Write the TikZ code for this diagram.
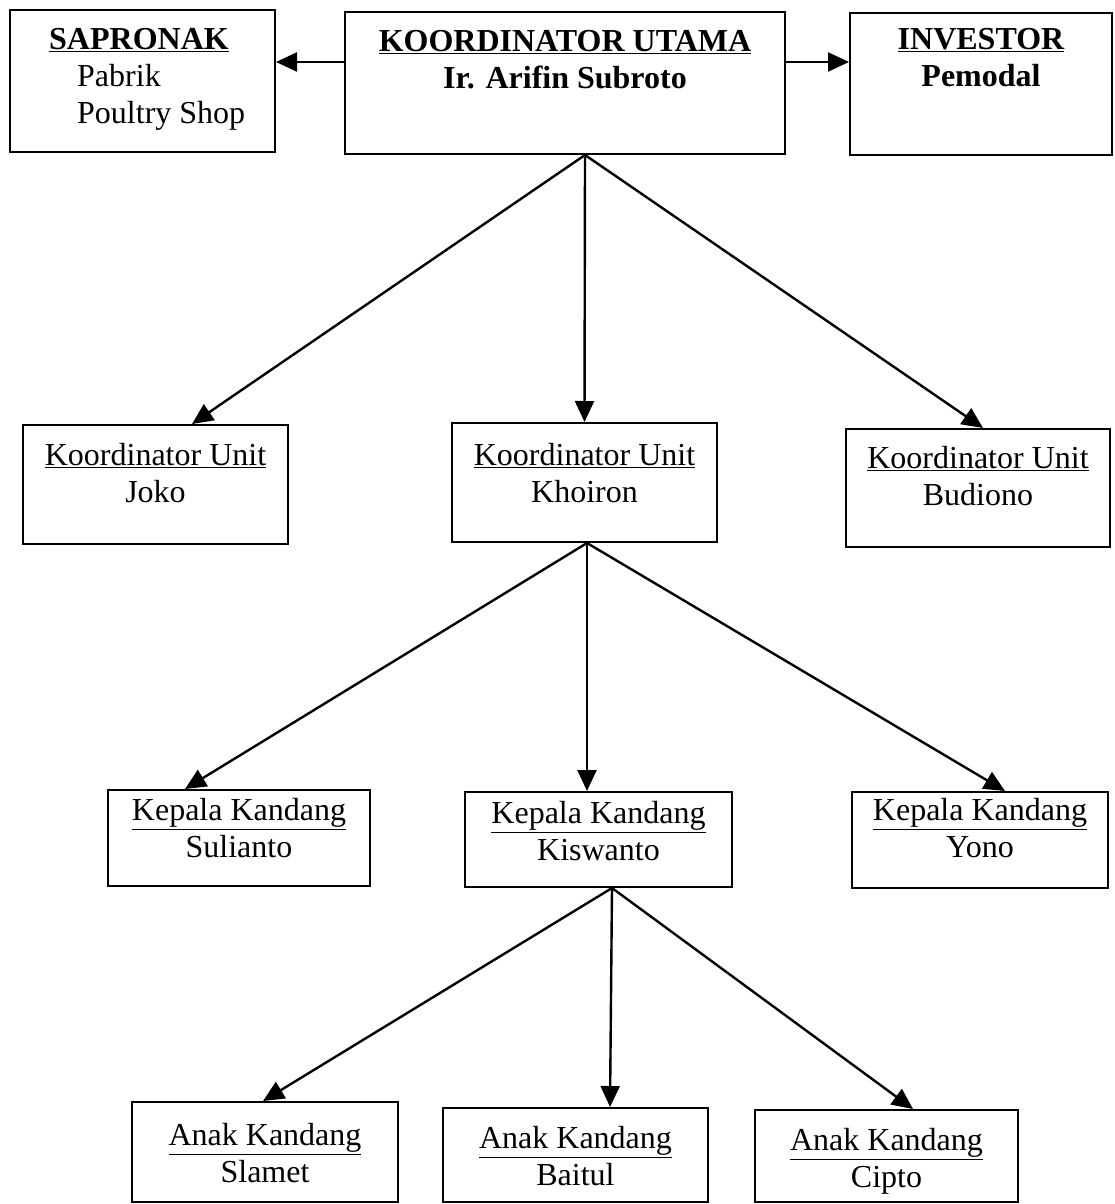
\documentclass[tikz,border=0pt]{standalone}
\usepackage{fontspec}
\setmainfont{Liberation Serif}
\usetikzlibrary{positioning,arrows.meta}

\tikzset{
  kotak/.style={draw, line width=2pt, inner sep=0pt},
  isi/.style={inner sep=0pt, align=center, font=\fontsize{32}{37}\selectfont},
  panah/.style={line width=2.4pt, -{Triangle[length=21pt,width=19pt]}}
}

\begin{document}
\begin{tikzpicture}[x=1pt,y=-1pt]

\useasboundingbox (0,0) rectangle (1114,1204);

% baris atas
\node[kotak, minimum width=265pt, minimum height=142pt] (sap) at (142.5,81) {};
\node[kotak, minimum width=440pt, minimum height=142pt] (utama) at (565,83) {};
\node[kotak, minimum width=262pt, minimum height=142pt] (inv) at (981,84) {};

\node[isi, align=left, below right=19pt and 40pt of sap.north west] (saptxt)
  {\textbf{\underline{SAPRONAK}}\\ \hspace*{28pt}Pabrik\\ \hspace*{28pt}Poultry Shop};
\node[isi, below=19pt of utama.north] (utamatxt)
  {\textbf{\underline{KOORDINATOR UTAMA}}\\ \textbf{Ir. Arifin Subroto}};
\node[isi, below=16pt of inv.north] (invtxt)
  {\textbf{\underline{INVESTOR}}\\ \textbf{Pemodal}};

% koordinator unit
\node[kotak, minimum width=265pt, minimum height=119pt] (joko) at (155.5,484.5) {};
\node[kotak, minimum width=265pt, minimum height=119pt] (khoi) at (584.5,482.5) {};
\node[kotak, minimum width=264pt, minimum height=118pt] (budi) at (978,488) {};

\node[isi, below=19pt of joko.north] (jokotxt) {\underline{Koordinator Unit}\\ Joko};
\node[isi, below=21pt of khoi.north] (khoitxt) {\underline{Koordinator Unit}\\ Khoiron};
\node[isi, below=18pt of budi.north] (buditxt) {\underline{Koordinator Unit}\\ Budiono};

% kepala kandang
\node[kotak, minimum width=262pt, minimum height=96pt] (suli) at (239,838) {};
\node[kotak, minimum width=267pt, minimum height=95pt] (kis) at (598.5,839.5) {};
\node[kotak, minimum width=256pt, minimum height=96pt] (yono) at (980,840) {};

\node[isi, below=9pt of suli.north] (sulitxt) {\underline{Kepala Kandang}\\ Sulianto};
\node[isi, below=10pt of kis.north] (kistxt) {\underline{Kepala Kandang}\\ Kiswanto};
\node[isi, below=7pt of yono.north] (yonotxt) {\underline{Kepala Kandang}\\ Yono};

% anak kandang
\node[kotak, minimum width=266pt, minimum height=100pt] (slam) at (265,1152) {};
\node[kotak, minimum width=265pt, minimum height=94pt] (bait) at (575.5,1155) {};
\node[kotak, minimum width=263pt, minimum height=92pt] (cip) at (886.5,1156) {};

\node[isi, below=22pt of slam.north] (slamtxt) {\underline{Anak Kandang}\\ Slamet};
\node[isi, below=19pt of bait.north] (baittxt) {\underline{Anak Kandang}\\ Baitul};
\node[isi, below=19pt of cip.north] (ciptxt) {\underline{Anak Kandang}\\ Cipto};

% panah
\draw[panah] ([yshift=21pt]utama.west) -- ([yshift=19pt]sap.east);
\draw[panah] ([yshift=21pt]utama.east) -- ([yshift=22pt]inv.west);

\foreach \t/\s in {joko/36.5, khoi/0, budi/5}{% dari koordinator utama
  \draw[panah] ([xshift=20pt]utama.south) -- ([xshift=\s pt]\t.north);}
\foreach \t/\s in {suli/-54, kis/-11.5, yono/25}{% dari Khoiron
  \draw[panah] ([xshift=2.5pt]khoi.south) -- ([xshift=\s pt]\t.north);}
\foreach \t/\s in {slam/-2, bait/34.5, cip/26.5}{% dari Kiswanto
  \draw[panah] ([xshift=13.5pt]kis.south) -- ([xshift=\s pt]\t.north);}

\end{tikzpicture}
\end{document}
